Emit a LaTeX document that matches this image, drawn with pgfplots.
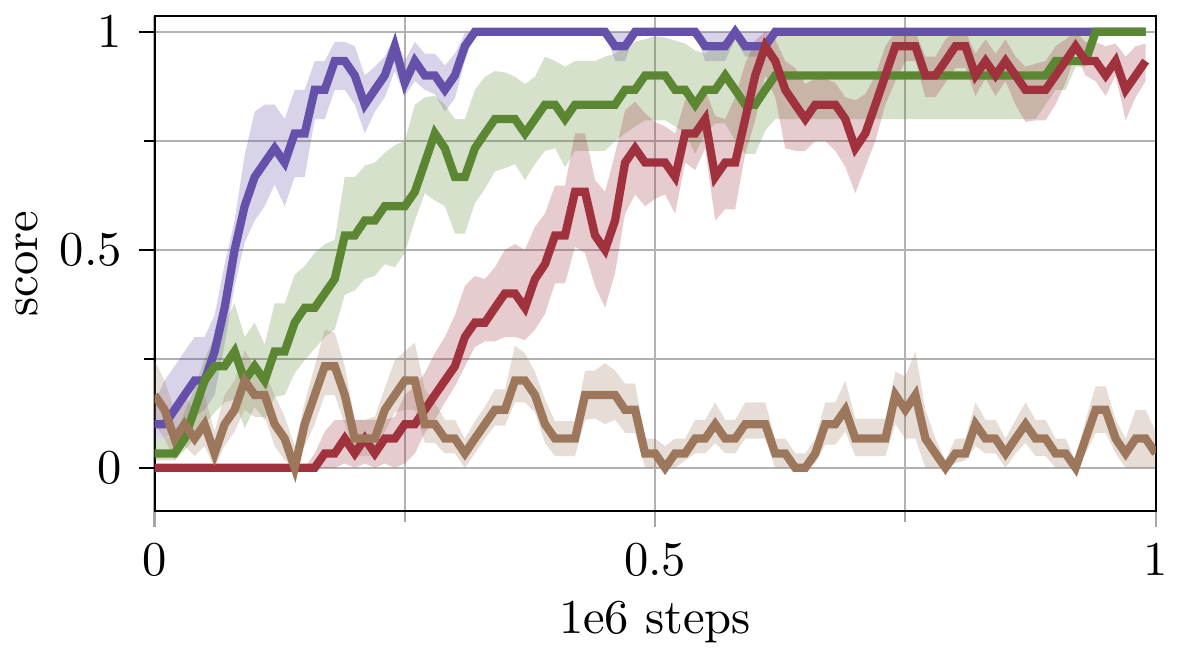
\documentclass[border=0pt]{standalone}
\usepackage{pgfplots}
\usepackage{pgfplotstable}
\pgfplotsset{compat=1.18}
\usepgfplotslibrary{fillbetween}

\definecolor{cpurple}{RGB}{102,81,170}
\definecolor{cgreen}{RGB}{92,135,50}
\definecolor{cred}{RGB}{160,50,62}
\definecolor{cbrown}{RGB}{156,119,92}

% x, mean, lower, upper
\pgfplotstableread{
x m lo hi
0.00 0.1 0.067 0.15
0.01 0.1 0.067 0.2
0.02 0.133 0.083 0.233
0.03 0.167 0.1 0.267
0.04 0.2 0.117 0.3
0.05 0.2 0.133 0.3
0.06 0.267 0.167 0.35
0.07 0.367 0.283 0.467
0.08 0.5 0.417 0.567
0.09 0.6 0.517 0.717
0.10 0.667 0.567 0.817
0.11 0.7 0.6 0.833
0.12 0.733 0.65 0.833
0.13 0.7 0.6 0.8
0.14 0.767 0.667 0.867
0.15 0.767 0.667 0.867
0.16 0.867 0.8 0.933
0.17 0.867 0.8 0.933
0.18 0.933 0.867 0.977
0.19 0.933 0.867 0.977
0.20 0.9 0.833 0.967
0.21 0.833 0.767 0.9
0.22 0.867 0.817 0.92
0.23 0.9 0.85 0.943
0.24 0.967 0.91 0.993
0.25 0.883 0.853 0.933
0.26 0.933 0.887 0.977
0.27 0.9 0.867 0.95
0.28 0.9 0.857 0.95
0.29 0.867 0.817 0.923
0.30 0.9 0.847 0.95
0.31 0.967 0.933 0.997
0.32 1 1 1
0.33 1 1 1
0.34 1 1 1
0.35 1 1 1
0.36 1 1 1
0.37 1 1 1
0.38 1 1 1
0.39 1 1 1
0.40 1 1 1
0.41 1 1 1
0.42 1 1 1
0.43 1 1 1
0.44 1 1 1
0.45 1 1 1
0.46 0.967 0.933 1
0.47 0.967 0.933 1
0.48 1 1 1
0.49 1 1 1
0.50 1 1 1
0.51 1 1 1
0.52 1 1 1
0.53 1 1 1
0.54 1 1 1
0.55 0.967 0.933 1
0.56 0.967 0.933 1
0.57 0.967 0.933 1
0.58 1 0.983 1
0.59 0.967 0.943 1
0.60 0.967 0.943 1
0.61 0.967 0.943 1
0.62 1 1 1
0.63 1 1 1
0.64 1 1 1
0.65 1 1 1
0.66 1 1 1
0.67 1 1 1
0.68 1 1 1
0.69 1 1 1
0.70 1 1 1
0.71 1 1 1
0.72 1 1 1
0.73 1 1 1
0.74 1 1 1
0.75 1 1 1
0.76 1 1 1
0.77 1 1 1
0.78 1 1 1
0.79 1 1 1
0.80 1 1 1
0.81 1 1 1
0.82 1 1 1
0.83 1 1 1
0.84 1 1 1
0.85 1 1 1
0.86 1 1 1
0.87 1 1 1
0.88 1 1 1
0.89 1 1 1
0.90 1 1 1
0.91 1 1 1
0.92 1 1 1
0.93 1 1 1
0.94 1 1 1
0.95 1 1 1
0.96 1 1 1
0.97 1 1 1
0.98 1 1 1
0.99 1 1 1
}\purpledata

\pgfplotstableread{
x m lo hi
0.00 0.033 0.017 0.067
0.01 0.033 0.017 0.067
0.02 0.033 0.017 0.073
0.03 0.067 0.04 0.127
0.04 0.133 0.067 0.183
0.05 0.2 0.1 0.25
0.06 0.233 0.127 0.3
0.07 0.233 0.15 0.333
0.08 0.267 0.157 0.377
0.09 0.2 0.09 0.3
0.10 0.233 0.14 0.333
0.11 0.2 0.11 0.283
0.12 0.267 0.163 0.377
0.13 0.267 0.167 0.377
0.14 0.333 0.217 0.443
0.15 0.367 0.247 0.463
0.16 0.367 0.273 0.493
0.17 0.4 0.3 0.513
0.18 0.433 0.317 0.523
0.19 0.533 0.397 0.667
0.20 0.533 0.407 0.667
0.21 0.567 0.433 0.693
0.22 0.567 0.44 0.7
0.23 0.6 0.467 0.723
0.24 0.6 0.46 0.74
0.25 0.6 0.493 0.75
0.26 0.633 0.567 0.833
0.27 0.7 0.63 0.85
0.28 0.767 0.613 0.853
0.29 0.733 0.6 0.833
0.30 0.667 0.537 0.8
0.31 0.667 0.537 0.8
0.32 0.733 0.607 0.867
0.33 0.767 0.64 0.897
0.34 0.8 0.68 0.91
0.35 0.8 0.687 0.907
0.36 0.8 0.697 0.897
0.37 0.767 0.66 0.88
0.38 0.8 0.697 0.897
0.39 0.833 0.727 0.943
0.40 0.833 0.733 0.933
0.41 0.8 0.69 0.92
0.42 0.833 0.727 0.933
0.43 0.833 0.727 0.933
0.44 0.833 0.727 0.933
0.45 0.833 0.727 0.943
0.46 0.833 0.75 0.95
0.47 0.867 0.767 0.967
0.48 0.867 0.783 0.977
0.49 0.9 0.797 0.983
0.50 0.9 0.797 0.99
0.51 0.9 0.797 0.987
0.52 0.867 0.783 0.98
0.53 0.867 0.767 0.973
0.54 0.833 0.72 0.957
0.55 0.867 0.767 0.95
0.56 0.867 0.79 0.967
0.57 0.9 0.79 0.983
0.58 0.867 0.75 0.983
0.59 0.833 0.72 0.967
0.60 0.833 0.72 0.967
0.61 0.867 0.773 0.983
0.62 0.9 0.8 0.99
0.63 0.9 0.8 0.99
0.64 0.9 0.8 0.99
0.65 0.9 0.8 0.99
0.66 0.9 0.8 0.99
0.67 0.9 0.8 0.99
0.68 0.9 0.8 0.99
0.69 0.9 0.8 0.99
0.70 0.9 0.8 0.99
0.71 0.9 0.8 0.99
0.72 0.9 0.8 0.99
0.73 0.9 0.8 0.99
0.74 0.9 0.8 0.99
0.75 0.9 0.8 0.99
0.76 0.9 0.8 0.99
0.77 0.9 0.8 0.99
0.78 0.9 0.8 0.99
0.79 0.9 0.8 0.99
0.80 0.9 0.8 0.99
0.81 0.9 0.8 0.99
0.82 0.9 0.8 0.99
0.83 0.9 0.8 0.99
0.84 0.9 0.8 0.99
0.85 0.9 0.8 0.99
0.86 0.9 0.8 0.99
0.87 0.9 0.8 0.99
0.88 0.9 0.8 0.99
0.89 0.9 0.833 0.993
0.90 0.933 0.867 0.993
0.91 0.933 0.867 0.993
0.92 0.933 0.92 0.993
0.93 0.933 0.92 0.993
0.94 1 1 1
0.95 1 1 1
0.96 1 1 1
0.97 1 1 1
0.98 1 1 1
0.99 1 1 1
}\greendata

\pgfplotstableread{
x m lo hi
0.00 0 0 0
0.01 0 0 0
0.02 0 0 0
0.03 0 0 0
0.04 0 0 0
0.05 0 0 0
0.06 0 0 0
0.07 0 0 0
0.08 0 0 0
0.09 0 0 0
0.10 0 0 0
0.11 0 0 0
0.12 0 0 0
0.13 0 0 0
0.14 0 0 0
0.15 0 0 0
0.16 0 0 0.033
0.17 0.033 0 0.083
0.18 0.033 0 0.11
0.19 0.067 0.01 0.11
0.20 0.033 0 0.11
0.21 0.067 0.01 0.11
0.22 0.033 0 0.11
0.23 0.067 0.01 0.11
0.24 0.067 0 0.117
0.25 0.1 0.01 0.167
0.26 0.1 0.033 0.187
0.27 0.133 0.08 0.217
0.28 0.167 0.11 0.263
0.29 0.2 0.15 0.3
0.30 0.233 0.187 0.35
0.31 0.3 0.233 0.417
0.32 0.333 0.277 0.44
0.33 0.333 0.29 0.433
0.34 0.367 0.29 0.46
0.35 0.4 0.3 0.5
0.36 0.4 0.3 0.513
0.37 0.367 0.293 0.5
0.38 0.433 0.317 0.553
0.39 0.467 0.353 0.583
0.40 0.533 0.423 0.647
0.41 0.533 0.423 0.647
0.42 0.633 0.507 0.767
0.43 0.633 0.493 0.767
0.44 0.533 0.417 0.66
0.45 0.5 0.367 0.633
0.46 0.567 0.447 0.72
0.47 0.7 0.583 0.82
0.48 0.733 0.627 0.84
0.49 0.7 0.6 0.813
0.50 0.7 0.617 0.793
0.51 0.7 0.627 0.783
0.52 0.667 0.583 0.767
0.53 0.767 0.7 0.843
0.54 0.767 0.683 0.85
0.55 0.8 0.733 0.867
0.56 0.667 0.567 0.807
0.57 0.7 0.593 0.8
0.58 0.7 0.593 0.85
0.59 0.8 0.72 0.927
0.60 0.9 0.797 0.98
0.61 0.967 0.9 1
0.62 0.933 0.85 0.983
0.63 0.867 0.733 0.933
0.64 0.833 0.727 0.917
0.65 0.8 0.727 0.88
0.66 0.833 0.75 0.893
0.67 0.833 0.75 0.893
0.68 0.833 0.727 0.883
0.69 0.8 0.69 0.85
0.70 0.733 0.63 0.843
0.71 0.767 0.69 0.857
0.72 0.833 0.75 0.9
0.73 0.9 0.833 0.967
0.74 0.967 0.887 1
0.75 0.967 0.933 1
0.76 0.967 0.933 1
0.77 0.9 0.85 0.943
0.78 0.9 0.85 0.943
0.79 0.933 0.883 0.983
0.80 0.967 0.917 1
0.81 0.967 0.917 1
0.82 0.9 0.853 0.95
0.83 0.933 0.893 0.983
0.84 0.9 0.853 0.95
0.85 0.933 0.887 0.983
0.86 0.9 0.833 0.943
0.87 0.867 0.793 0.92
0.88 0.867 0.797 0.927
0.89 0.867 0.797 0.933
0.90 0.9 0.833 0.967
0.91 0.933 0.883 0.983
0.92 0.967 0.95 1
0.93 0.933 0.9 0.977
0.94 0.933 0.887 0.977
0.95 0.9 0.853 0.967
0.96 0.933 0.9 0.973
0.97 0.867 0.797 0.943
0.98 0.9 0.85 0.967
0.99 0.933 0.887 0.973
}\reddata

\pgfplotstableread{
x m lo hi
0.00 0.167 0.1 0.247
0.01 0.133 0.067 0.2
0.02 0.067 0.017 0.133
0.03 0.1 0.05 0.167
0.04 0.067 0.027 0.133
0.05 0.1 0.05 0.167
0.06 0.033 0 0.083
0.07 0.1 0.05 0.167
0.08 0.133 0.083 0.2
0.09 0.2 0.133 0.27
0.10 0.167 0.117 0.233
0.11 0.167 0.117 0.217
0.12 0.1 0.05 0.167
0.13 0.067 0.017 0.117
0.14 0 0 0.05
0.15 0.1 0.05 0.15
0.16 0.167 0.1 0.233
0.17 0.233 0.167 0.317
0.18 0.233 0.167 0.31
0.19 0.167 0.1 0.233
0.20 0.067 0.027 0.11
0.21 0.067 0.027 0.11
0.22 0.067 0.027 0.117
0.23 0.133 0.083 0.183
0.24 0.167 0.127 0.247
0.25 0.2 0.133 0.267
0.26 0.2 0.133 0.287
0.27 0.1 0.057 0.18
0.28 0.1 0.057 0.15
0.29 0.067 0.033 0.11
0.30 0.067 0.033 0.11
0.31 0.033 0 0.067
0.32 0.067 0.033 0.107
0.33 0.1 0.067 0.14
0.34 0.133 0.097 0.18
0.35 0.133 0.097 0.18
0.36 0.2 0.15 0.28
0.37 0.2 0.15 0.263
0.38 0.167 0.127 0.22
0.39 0.1 0.057 0.157
0.40 0.067 0.027 0.107
0.41 0.067 0.027 0.107
0.42 0.067 0.027 0.107
0.43 0.167 0.11 0.223
0.44 0.167 0.113 0.223
0.45 0.167 0.1 0.24
0.46 0.167 0.11 0.223
0.47 0.133 0.08 0.193
0.48 0.133 0.08 0.193
0.49 0.033 0 0.067
0.50 0.033 0 0.067
0.51 0 0 0.05
0.52 0.033 0 0.067
0.53 0.033 0.017 0.067
0.54 0.067 0.033 0.11
0.55 0.067 0.033 0.11
0.56 0.1 0.057 0.15
0.57 0.067 0.033 0.11
0.58 0.067 0.033 0.11
0.59 0.1 0.067 0.15
0.60 0.1 0.067 0.15
0.61 0.1 0.067 0.15
0.62 0.033 0 0.067
0.63 0.033 0 0.067
0.64 0 0 0.033
0.65 0 0 0.033
0.66 0.033 0.01 0.067
0.67 0.1 0.053 0.15
0.68 0.1 0.053 0.15
0.69 0.133 0.083 0.2
0.70 0.067 0.027 0.113
0.71 0.067 0.027 0.113
0.72 0.067 0.027 0.113
0.73 0.067 0.027 0.113
0.74 0.167 0.1 0.22
0.75 0.133 0.067 0.21
0.76 0.167 0.067 0.267
0.77 0.067 0 0.133
0.78 0.033 0 0.067
0.79 0 0 0.017
0.80 0.033 0.01 0.067
0.81 0.033 0.017 0.067
0.82 0.1 0.05 0.15
0.83 0.067 0.033 0.11
0.84 0.067 0.033 0.11
0.85 0.033 0 0.067
0.86 0.067 0.033 0.11
0.87 0.1 0.057 0.15
0.88 0.067 0.027 0.11
0.89 0.067 0.027 0.11
0.90 0.033 0 0.067
0.91 0.033 0 0.067
0.92 0 0 0.017
0.93 0.067 0.033 0.11
0.94 0.133 0.08 0.187
0.95 0.133 0.08 0.187
0.96 0.067 0.033 0.11
0.97 0.033 0 0.067
0.98 0.067 0 0.133
0.99 0.067 0 0.133
1.00 0.033 0 0.083
}\browndata

\begin{document}
\begin{tikzpicture}
\begin{axis}[
  scale only axis,
  width=206pt, height=102pt,
  xmin=0, xmax=1, ymin=-0.1, ymax=1.037,
  xtick={0,0.5,1}, minor xtick={0.25,0.75},
  ytick={0,0.5,1}, minor ytick={0.25,0.75},
  grid=both,
  major grid style={black!30, line width=0.45pt},
  minor grid style={black!30, line width=0.45pt},
  tick align=outside, tick pos=left,
  major tick length=3.2pt, minor tick length=2.2pt,
  x tick style={black!35, line width=0.45pt},
  y tick style={black, line width=0.4pt},
  xlabel={1e6 steps}, ylabel={score},
  ylabel shift=-2.5pt, xlabel shift=-1.5pt,
  every axis plot/.append style={line width=1.7pt},
]
% bands
\addplot[draw=none, name path=pu] table[x=x, y=hi]{\purpledata};
\addplot[draw=none, name path=pl] table[x=x, y=lo]{\purpledata};
\addplot[cpurple, fill opacity=0.25, draw=none] fill between[of=pu and pl];
\addplot[draw=none, name path=gu] table[x=x, y=hi]{\greendata};
\addplot[draw=none, name path=gl] table[x=x, y=lo]{\greendata};
\addplot[cgreen, fill opacity=0.25, draw=none] fill between[of=gu and gl];
\addplot[draw=none, name path=ru] table[x=x, y=hi]{\reddata};
\addplot[draw=none, name path=rl] table[x=x, y=lo]{\reddata};
\addplot[cred, fill opacity=0.25, draw=none] fill between[of=ru and rl];
\addplot[draw=none, name path=bu] table[x=x, y=hi]{\browndata};
\addplot[draw=none, name path=bl] table[x=x, y=lo]{\browndata};
\addplot[cbrown, fill opacity=0.25, draw=none] fill between[of=bu and bl];
% means
\addplot[cpurple, mark=none] table[x=x, y=m]{\purpledata};
\addplot[cgreen, mark=none] table[x=x, y=m]{\greendata};
\addplot[cred, mark=none] table[x=x, y=m]{\reddata};
\addplot[cbrown, mark=none] table[x=x, y=m]{\browndata};
\end{axis}
\end{tikzpicture}
\end{document}
